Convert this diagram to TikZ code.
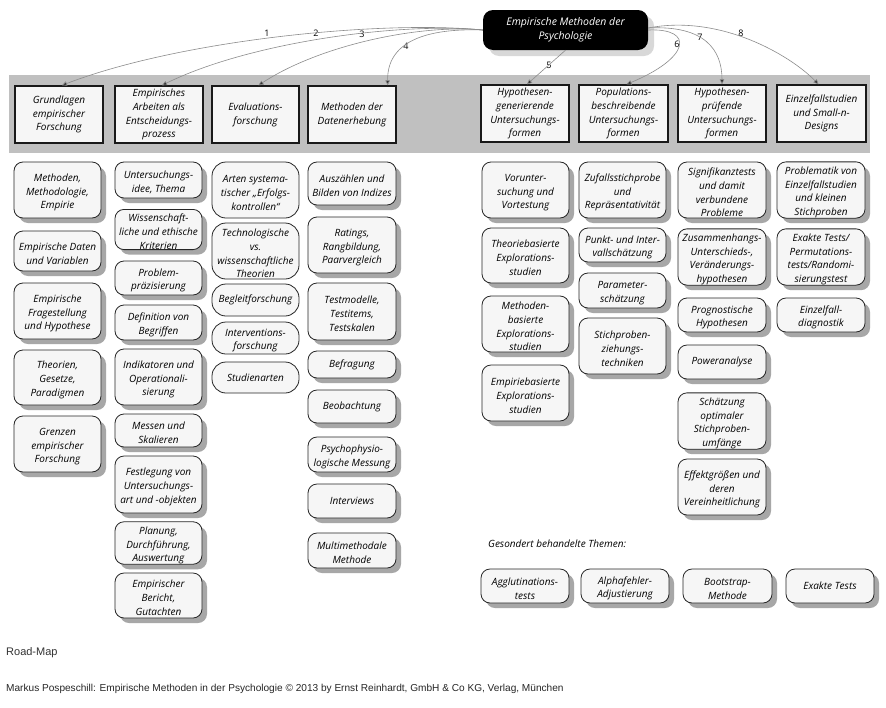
\documentclass[tikz,border=0pt]{standalone}
\usepackage{fontspec}
\setmainfont{Open Sans}
\newfontfamily\arialfont{Liberation Sans}
\usetikzlibrary{shadows,arrows.meta,calc}
\definecolor{bandgray}{HTML}{C0C0C0}
\definecolor{cardfill}{HTML}{F6F6F6}
\definecolor{linegray}{HTML}{8C8C8C}
\def\bxpre{}
\tikzset{
  txt/.style={align=center,inner sep=0pt,font=\itshape\fontsize{10}{13.8}\selectfont},
  ml/.style={/utils/exec={\def\bxpre{\rule{0pt}{12.5pt}}}},
  card/.style={txt,rounded corners=9pt,draw=black!85,line width=0.8pt,fill=cardfill,
    drop shadow={shadow xshift=5pt,shadow yshift=-5pt,fill=black!38,opacity=0.9}},
  cardns/.style={txt,rounded corners=14pt,draw=black!85,line width=0.8pt,fill=cardfill},
  head/.style={txt,draw=black!90,line width=1.4pt,fill=cardfill},
  topnode/.style={txt,rounded corners=10pt,fill=black,text=white,font=\itshape\fontsize{10.5}{14.5}\selectfont,
    drop shadow={shadow xshift=6pt,shadow yshift=-6pt,fill=black!30}},
  conn/.style={draw=linegray,line width=0.6pt,-{Triangle[length=5pt,width=4.5pt,fill=black!80]}},
  num/.style={inner sep=0pt,font=\fontsize{9}{10}\selectfont}
}
\newcommand\bx[7]{%
  \pgfmathsetmacro\bxw{#5-#3}\pgfmathsetmacro\bxh{#6-#4}%
  \pgfmathsetmacro\bxcx{(#3+#5)/2}\pgfmathsetmacro\bxcy{(#4+#6)/2}%
  \node[#1,minimum width=\bxw pt,minimum height=\bxh pt] (#2) at (\bxcx,\bxcy) {\bxpre#7};}
\begin{document}
\begin{tikzpicture}[x=1pt,y=-1pt]
\useasboundingbox (0,0) rectangle (886,707);
\fill[white] (0,0) rectangle (886,707);
% band
\fill[bandgray] (9,75) rectangle (870,153);
% top node
\bx{topnode}{top}{483}{10}{648}{50}{Empirische Methoden der\\Psychologie}
% headers
\bx{head}{h1}{15}{86}{103}{143}{Grundlagen\\empirischer\\Forschung}
\bx{head}{h2}{115}{86}{203}{143}{Empirisches\\Arbeiten als\\Entscheidungs-\\prozess}
\bx{head}{h3}{212}{86}{299}{143}{Evaluations-\\forschung}
\bx{head}{h4}{308}{86}{396}{143}{Methoden der\\Datenerhebung}
\bx{head}{h5}{481}{85}{569}{142}{Hypothesen-\\generierende\\Untersuchungs-\\formen}
\bx{head}{h6}{579}{85}{668}{142}{Populations-\\beschreibende\\Untersuchungs-\\formen}
\bx{head}{h7}{678}{85}{766}{142}{Hypothesen-\\prüfende\\Untersuchungs-\\formen}
\bx{head}{h8}{777}{85}{866}{142}{Einzelfallstudien\\und Small-n-\\Designs}
% labels
\node[num] (n1) at (267,33) {1};
\node[num] (n2) at (316,33) {2};
\node[num] (n3) at (362,34) {3};
\node[num] (n4) at (406,46) {4};
\node[num] (n5) at (549,65) {5};
\node[num] (n6) at (677,44) {6};
\node[num] (n7) at (700,37) {7};
\node[num] (n8) at (741,33) {8};
% connectors
\draw[conn] (top.west) .. controls (380,20) and (180,40) .. ([xshift=3pt]h1.north);
\draw[conn] (top.west) .. controls (400,22) and (250,42) .. ([xshift=3pt]h2.north);
\draw[conn] (top.west) .. controls (420,24) and (320,45) .. ([xshift=3pt]h3.north);
\draw[conn] (top.west) .. controls (425,28) and (387,42) .. ([xshift=-9pt]h4.north east);
\draw[conn] (top.south) -- ([xshift=2pt]h5.north);
\draw[conn] (top.east) .. controls (695,28) and (690,58) .. ([xshift=3pt]h6.north);
\draw[conn] ([yshift=2pt]top.east) .. controls (705,25) and (722,50) .. (h7.north);
\draw[conn] ([yshift=2pt]top.east) .. controls (720,14) and (790,55) .. ([xshift=-3pt]h8.north);
% column 1
\bx{card,ml}{a1}{14}{162}{101}{218}{Methoden,\\Methodologie,\\Empirie}
\bx{card,ml}{a2}{14}{231}{101}{271}{Empirische Daten\\und Variablen}
\bx{card,ml}{a3}{14}{283}{101}{339}{Empirische\\Fragestellung\\und Hypothese}
\bx{card,ml}{a4}{14}{350}{101}{405}{Theorien,\\Gesetze,\\Paradigmen}
\bx{card,ml}{a5}{14}{416}{101}{472}{Grenzen\\empirischer\\Forschung}
% column 2
\bx{card,ml}{b1}{115}{162}{202}{198}{Untersuchungs-\\idee, Thema}
\bx{card,ml}{b2}{115}{210}{202}{249}{Wissenschaft-\\liche und ethische\\Kriterien}
\bx{card,ml}{b3}{115}{261}{202}{295}{Problem-\\präzisierung}
\bx{card,ml}{b4}{115}{305}{202}{340}{Definition von\\Begriffen}
\bx{card,ml}{b5}{115}{349}{202}{405}{Indikatoren und\\Operationali-\\sierung}
\bx{card,ml}{b6}{115}{414}{202}{447}{Messen und\\Skalieren}
\bx{card,ml}{b7}{115}{456}{202}{513}{Festlegung von\\Untersuchungs-\\art und -objekten}
\bx{card,ml}{b8}{115}{523}{202}{563}{Planung,\\Durchführung,\\Auswertung}
\bx{card,ml}{b9}{115}{573}{202}{618}{Empirischer\\Bericht,\\Gutachten}
% column 3
\bx{cardns,ml}{c1}{212}{162}{299}{218}{Arten systema-\\tischer „Erfolgs-\\kontrollen“}
\bx{cardns,ml}{c2}{212}{223}{299}{279}{Technologische\\vs.\\wissenschaftliche\\Theorien}
\bx{cardns}{c3}{212}{284}{299}{316}{Begleitforschung}
\bx{cardns,ml}{c4}{212}{322}{299}{354}{Interventions-\\forschung}
\bx{cardns}{c5}{212}{362}{299}{393}{Studienarten}
% column 4
\bx{card,ml}{d1}{308}{162}{396}{205}{Auszählen und\\Bilden von Indizes}
\bx{card,ml}{d2}{308}{217}{396}{273}{Ratings,\\Rangbildung,\\Paarvergleich}
\bx{card,ml}{d3}{308}{283}{396}{340}{Testmodelle,\\Testitems,\\Testskalen}
\bx{card}{d4}{308}{351}{396}{378}{Befragung}
\bx{card}{d5}{308}{390}{396}{423}{Beobachtung}
\bx{card,ml}{d6}{308}{437}{396}{472}{Psychophysio-\\logische Messung}
\bx{card}{d7}{308}{484}{396}{518}{Interviews}
\bx{card,ml}{d8}{308}{533}{396}{568}{Multimethodale\\Methode}
% column 5
\bx{card,ml}{e1}{482}{162}{569}{218}{Vorunter-\\suchung und\\Vortestung}
\bx{card,ml}{e2}{482}{228}{569}{283}{Theoriebasierte\\Explorations-\\studien}
\bx{card,ml}{e3}{482}{296}{569}{352}{Methoden-\\basierte\\Explorations-\\studien}
\bx{card,ml}{e4}{482}{365}{569}{421}{Empiriebasierte\\Explorations-\\studien}
% column 6
\bx{card,ml}{f1}{579}{162}{666}{218}{Zufallsstichprobe\\und\\Repräsentativität}
\bx{card,ml}{f2}{579}{228}{666}{262}{Punkt- und Inter-\\vallschätzung}
\bx{card,ml}{f3}{579}{273}{666}{308}{Parameter-\\schätzung}
\bx{card,ml}{f4}{579}{318}{666}{374}{Stichproben-\\ziehungs-\\techniken}
% column 7
\bx{card,ml}{g1}{678}{162}{766}{218}{Signifikanztests\\und damit\\verbundene\\Probleme}
\bx{card,ml}{g2}{678}{229}{766}{285}{Zusammenhangs-\\Unterschieds-,\\Veränderungs-\\hypothesen}
\bx{card,ml}{g3}{678}{298}{766}{332}{Prognostische\\Hypothesen}
\bx{card}{g4}{678}{345}{766}{379}{Poweranalyse}
\bx{card,ml}{g5}{678}{393}{766}{449}{Schätzung\\optimaler\\Stichproben-\\umfänge}
\bx{card,ml}{g6}{678}{459}{766}{515}{Effektgrößen und\\deren\\Vereinheitlichung}
% column 8
\bx{card,ml}{k1}{777}{162}{865}{218}{Problematik von\\Einzelfallstudien\\und kleinen\\Stichproben}
\bx{card,ml}{k2}{777}{229}{865}{285}{Exakte Tests/\\Permutations-\\tests/Randomi-\\sierungstest}
\bx{card,ml}{k3}{777}{298}{865}{332}{Einzelfall-\\diagnostik}
% bottom
\node[txt,anchor=west] (gs) at (488,544) {Gesondert behandelte Themen:};
\bx{card,ml}{s1}{481}{569}{569}{603}{Agglutinations-\\tests}
\bx{card,ml}{s2}{581}{569}{669}{603}{Alphafehler-\\Adjustierung}
\bx{card,ml}{s3}{683}{569}{772}{603}{Bootstrap-\\Methode}
\bx{card}{s4}{786}{569}{874}{603}{Exakte Tests}
% footer
\node[anchor=west,inner sep=0pt,font=\arialfont\fontsize{11}{13}\selectfont,text=black!80] (rm) at (6,653) {Road-Map};
\node[anchor=west,inner sep=0pt,font=\arialfont\fontsize{10.1}{12}\selectfont,text=black!85] (ft) at (6,689) {Markus Pospeschill: Empirische Methoden in der Psychologie © 2013 by Ernst Reinhardt, GmbH \& Co KG, Verlag, München};
\end{tikzpicture}
\end{document}
